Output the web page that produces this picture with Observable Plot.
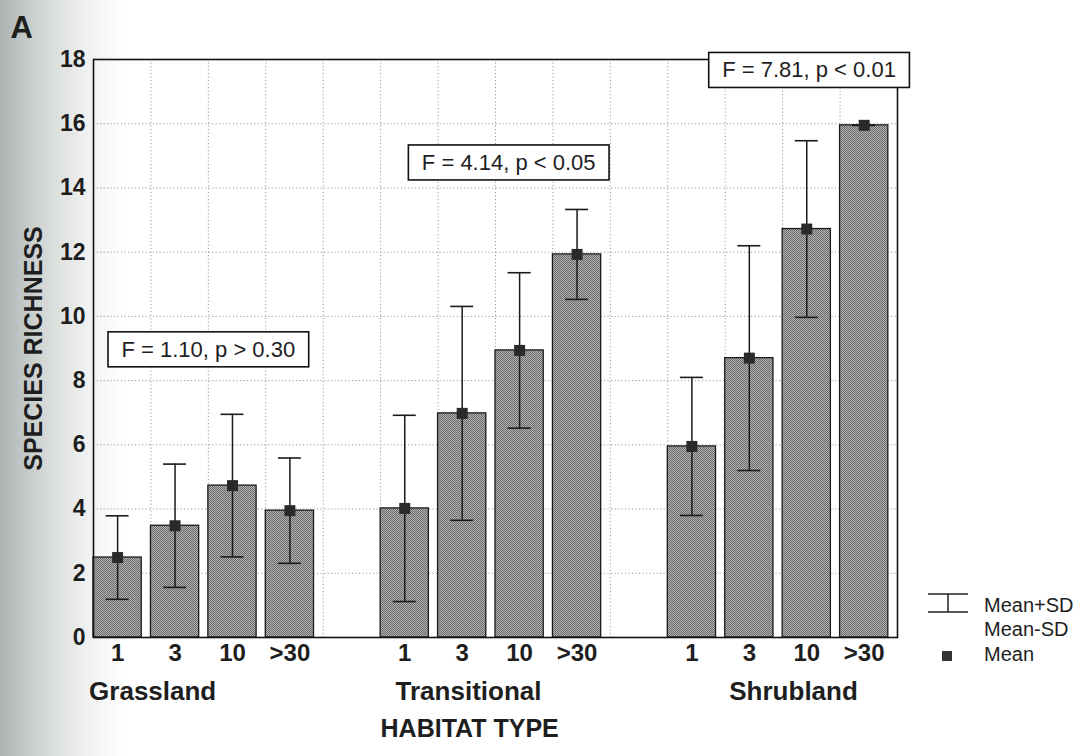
<!DOCTYPE html>
<html>
<head>
<meta charset="utf-8">
<script src="https://cdn.jsdelivr.net/npm/d3@7"></script>
<script src="https://cdn.jsdelivr.net/npm/@observablehq/plot@0.6"></script>
<style>
  html, body { margin: 0; padding: 0; }
  body {
    width: 1091px; height: 756px; overflow: hidden; position: relative;
    background: linear-gradient(to right, #aab2b1 0px, #cdd2d1 35px, #eceeed 80px, #ffffff 125px);
    font-family: "Liberation Sans", Arial, sans-serif;
  }
  #legend { position: absolute; left: 920px; top: 582px; }
</style>
</head>
<body>
<div id="chart"></div>
<svg id="legend" width="171" height="90" font-family="Liberation Sans, Arial, sans-serif" font-size="20" fill="#1e1e1e">
  <line x1="8" x2="48" y1="12" y2="12" stroke="#222" stroke-width="1.5"/>
  <line x1="8" x2="48" y1="30" y2="30" stroke="#222" stroke-width="1.5"/>
  <line x1="28" x2="28" y1="12" y2="30" stroke="#222" stroke-width="1.5"/>
  <text x="64" y="30">Mean+SD</text>
  <text x="64" y="54">Mean-SD</text>
  <rect x="22" y="69" width="10" height="10" fill="#333"/>
  <text x="64" y="79">Mean</text>
</svg>
<script>
// ---------- data ----------
const groups = ["Grassland", "Transitional", "Shrubland"];
const ageClasses = ["1", "3", "10", ">30"];

const grasslandMean    = [2.49, 3.48, 4.73, 3.95];
const grasslandSD      = [1.30, 1.92, 2.22, 1.64];
const transitionalMean = [4.02, 6.98, 8.94, 11.93];
const transitionalSD   = [2.90, 3.33, 2.42, 1.40];
const shrublandMean    = [5.95, 8.70, 12.72, 15.95];
const shrublandSD      = [2.15, 3.50, 2.75, 0.00];

const annotLabels = ["F = 1.10, p > 0.30", "F = 4.14, p < 0.05", "F = 7.81, p < 0.01"];
const yTicks = [0, 2, 4, 6, 8, 10, 12, 14, 16, 18];

// ---------- layout ----------
const slotsPerGroup = 5;        // 4 bars + 1 gap slot
const nSlots = 14;
const barFrac = 0.84;
const capHalf = 0.2;
const groupLabelX = [1.03, 6.53, 12.19];
const axisTitleX = 6.55;
const annotPos = [[2.0, 8.96], [7.23, 14.78], [12.46, 17.66]];

const means = [grasslandMean, transitionalMean, shrublandMean];
const sds = [grasslandSD, transitionalSD, shrublandSD];

const rows = [];
groups.forEach((g, gi) => ageClasses.forEach((a, j) => rows.push({
  group: g, age: a, slot: gi * slotsPerGroup + j, mean: means[gi][j], sd: sds[gi][j]
})));
const center = d => d.slot + barFrac / 2;

const font = "Liberation Sans, Arial, sans-serif";
const ink = "#1b1b1b";

const chart = Plot.plot({
  width: 1091, height: 756,
  marginLeft: 93, marginRight: 194, marginTop: 59, marginBottom: 119,
  style: { background: "transparent", fontFamily: font, color: "#1e1e1e", overflow: "visible" },
  x: { domain: [0, nSlots], axis: null },
  y: { domain: [0, 18] },
  marks: [
    Plot.ruleY(yTicks.slice(1, -1), { stroke: "#999", strokeDasharray: "1.2,2.3", strokeWidth: 1 }),
    Plot.ruleX(d3.range(1, nSlots), { stroke: "#999", strokeDasharray: "1.2,2.3", strokeWidth: 1 }),
    Plot.rect(rows, { x1: "slot", x2: d => d.slot + barFrac, y1: 0, y2: "mean",
      fill: "url(#stipple)", stroke: ink, strokeWidth: 1.3 }),
    Plot.ruleX(rows, { x: center, y1: d => d.mean - d.sd, y2: d => d.mean + d.sd, stroke: ink, strokeWidth: 1.5 }),
    Plot.ruleY(rows, { y: d => d.mean + d.sd, x1: d => center(d) - capHalf, x2: d => center(d) + capHalf, stroke: ink, strokeWidth: 1.6 }),
    Plot.ruleY(rows, { y: d => d.mean - d.sd, x1: d => center(d) - capHalf, x2: d => center(d) + capHalf, stroke: ink, strokeWidth: 1.6 }),
    Plot.dot(rows, { x: center, y: "mean", symbol: "square", r: 6.2, fill: "#2a2a2a", stroke: "none" }),
    Plot.frame({ stroke: "#111", strokeWidth: 1.6 }),
    Plot.axisY(yTicks, { anchor: "left", tickSize: 0, tickPadding: 8, fontSize: 23, fontWeight: "bold", label: null }),
    Plot.text(rows, { x: center, text: "age", frameAnchor: "bottom", dy: 23, fontSize: 24, fontWeight: "bold" }),
    Plot.text(groups, { x: (d, i) => groupLabelX[i], text: d => d, frameAnchor: "bottom", dy: 62, fontSize: 26, fontWeight: "bold" }),
    Plot.text(["HABITAT TYPE"], { x: () => axisTitleX, text: d => d, frameAnchor: "bottom", dy: 99, fontSize: 25, fontWeight: "bold" }),
    Plot.text(["SPECIES RICHNESS"], { text: d => d, frameAnchor: "left", textAnchor: "middle", dx: -60, rotate: -90, fontSize: 25, fontWeight: "bold" }),
    Plot.text(["A"], { text: d => d, frameAnchor: "top-left", dx: -83, dy: -44, textAnchor: "start", lineAnchor: "top", fontSize: 31, fontWeight: "bold" }),
    Plot.text(annotLabels, { x: (d, i) => annotPos[i][0], y: (d, i) => annotPos[i][1], text: d => d, fontSize: 22, className: "fbox", fill: "#1e1e1e" })
  ]
});

document.getElementById("chart").append(chart);

// stipple pattern for bars
const NS = "http://www.w3.org/2000/svg";
const defs = document.createElementNS(NS, "defs");
defs.innerHTML = '<pattern id="stipple" width="2" height="2" patternUnits="userSpaceOnUse">' +
  '<rect width="2" height="2" fill="#b0b0b0"/>' +
  '<rect width="1" height="1" fill="#6c6c6c"/>' +
  '<rect x="1" y="1" width="1" height="1" fill="#6c6c6c"/></pattern>';
chart.insertBefore(defs, chart.firstChild);

// boxed annotations
chart.querySelectorAll("g.fbox text").forEach(t => {
  const b = t.getBBox();
  const r = document.createElementNS(NS, "rect");
  r.setAttribute("x", b.x - 13.5);
  r.setAttribute("y", b.y - 5);
  r.setAttribute("width", b.width + 27);
  r.setAttribute("height", b.height + 10);
  r.setAttribute("fill", "white");
  r.setAttribute("stroke", "#111");
  r.setAttribute("stroke-width", "1.6");
  if (t.getAttribute("transform")) r.setAttribute("transform", t.getAttribute("transform"));
  t.parentNode.insertBefore(r, t);
});
</script>
</body>
</html>
